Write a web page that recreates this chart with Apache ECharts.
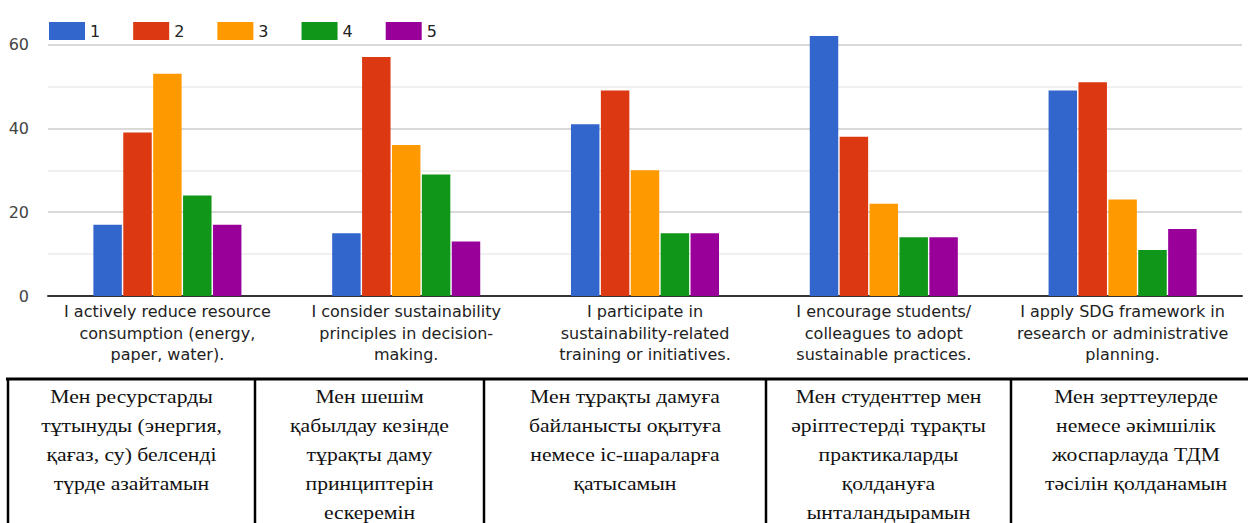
<!DOCTYPE html>
<html>
<head>
<meta charset="utf-8">
<script src="https://cdn.jsdelivr.net/npm/echarts@6/dist/echarts.min.js"></script>
<style>
  html, body { margin: 0; padding: 0; background: #fff; }
  #chart { width: 1248px; height: 523px; }
</style>
</head>
<body>
<div id="chart"></div>
<script>
// categories (English statements under the axis)
const categories = [
  'I actively reduce resource\nconsumption (energy,\npaper, water).',
  'I consider sustainability\nprinciples in decision-\nmaking.',
  'I participate in\nsustainability-related\ntraining or initiatives.',
  'I encourage students/\ncolleagues to adopt\nsustainable practices.',
  'I apply SDG framework in\nresearch or administrative\nplanning.'
];
const seriesNames = ['1', '2', '3', '4', '5'];
const score1 = [17, 15, 41, 62, 49];
const score2 = [39, 57, 49, 38, 51];
const score3 = [53, 36, 30, 22, 23];
const score4 = [24, 29, 15, 14, 11];
const score5 = [17, 13, 15, 14, 16];
const yTicks = [0, 20, 40, 60];

// Kazakh translations shown in the table under the chart
const kazakhRows = [
  ['Мен ресурстарды', 'тұтынуды (энергия,', 'қағаз, су) белсенді', 'түрде азайтамын'],
  ['Мен шешім', 'қабылдау кезінде', 'тұрақты даму', 'принциптерін', 'ескеремін'],
  ['Мен тұрақты дамуға', 'байланысты оқытуға', 'немесе іс-шараларға', 'қатысамын'],
  ['Мен студенттер мен', 'әріптестерді тұрақты', 'практикаларды', 'қолдануға', 'ынталандырамын'],
  ['Мен зерттеулерде', 'немесе әкімшілік', 'жоспарлауда ТДМ', 'тәсілін қолданамын']
];

const colors = ['#3366cc', '#dc3912', '#ff9900', '#109618', '#990099'];
const allScores = [score1, score2, score3, score4, score5];

const chart = echarts.init(document.getElementById('chart'), null, { renderer: 'svg' });

// table lines
const cellCenters = [131.5, 369.5, 625, 888.5, 1136];
const vLines = [8, 255, 484, 766, 1011];
const graphic = [];
graphic.push({
  type: 'line', silent: true,
  shape: { x1: 6, y1: 379, x2: 1248, y2: 379 },
  style: { stroke: '#000', lineWidth: 3 }
});
vLines.forEach(function (x) {
  graphic.push({
    type: 'line', silent: true,
    shape: { x1: x, y1: 379, x2: x, y2: 523 },
    style: { stroke: '#000', lineWidth: 2.5 }
  });
});
// one text per line so the last line stays inside the picture
kazakhRows.forEach(function (lines, i) {
  lines.forEach(function (line, j) {
    graphic.push({
      type: 'text', silent: true,
      x: cellCenters[i], y: 396 + j * 29.2, scaleX: 1.14,
      style: {
        text: line,
        align: 'center',
        verticalAlign: 'middle',
        fontFamily: '"Liberation Serif", "Times New Roman", serif',
        fontSize: 19,
        lineHeight: 19,
        fill: '#111'
      }
    });
  });
});

const option = {
  animation: false,
  color: colors,
  legend: {
    left: 44,
    top: 17,
    itemWidth: 36,
    itemHeight: 18,
    itemGap: 33,
    icon: 'rect',
    data: seriesNames,
    textStyle: { fontFamily: 'DejaVu Sans', fontSize: 16, color: '#222' }
  },
  grid: { left: 48, right: 6, top: 44.5, bottom: 227, containLabel: false },
  xAxis: {
    type: 'category',
    data: categories,
    axisTick: { show: false },
    axisLine: { lineStyle: { color: '#333', width: 2 } },
    axisLabel: {
      interval: 0,
      margin: 5,
      fontFamily: 'DejaVu Sans',
      fontSize: 16,
      lineHeight: 21.5,
      color: '#222'
    }
  },
  yAxis: {
    type: 'value',
    min: yTicks[0],
    max: yTicks[yTicks.length - 1],
    interval: 20,
    axisLine: { show: false },
    axisTick: { show: false },
    axisLabel: { margin: 19, fontFamily: 'DejaVu Sans', fontSize: 16, color: '#444' },
    splitLine: { lineStyle: { color: '#cccccc', width: 1.5 } },
    minorTick: { show: false, splitNumber: 2 },
    minorSplitLine: { show: true, lineStyle: { color: '#ebebeb', width: 1.5 } }
  },
  series: allScores.map(function (vals, i) {
    return {
      name: seriesNames[i],
      type: 'bar',
      data: vals,
      clip: false,
      barGap: '5%',
      barCategoryGap: '38%',
      itemStyle: { color: colors[i] }
    };
  }),
  graphic: graphic
};
chart.setOption(option);
</script>
</body>
</html>
